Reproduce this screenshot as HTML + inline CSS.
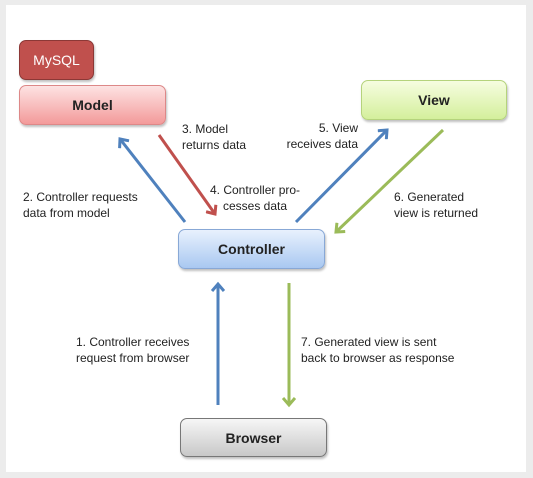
<!DOCTYPE html>
<html><head><style>
body{margin:0;width:533px;height:478px;background:#ececec;font-family:"Liberation Sans",sans-serif;position:relative;overflow:hidden}
.in{position:absolute;left:6px;top:5px;width:520px;height:467px;background:#fff}
.b{position:absolute;border-radius:7px;display:flex;align-items:center;justify-content:center;font-size:14px;font-weight:bold;color:#222;box-sizing:border-box;box-shadow:1px 2px 2px rgba(0,0,0,.25)}
.t{position:absolute;font-size:12px;color:#222;line-height:16px}
</style></head><body>
<div class="in"></div>
<div class="b" style="left:19px;top:40px;width:75px;height:40px;background:#c0504d;border:1px solid #8c3836;color:#fff;font-weight:normal">MySQL</div>
<div class="b" style="left:19px;top:85px;width:147px;height:40px;background:linear-gradient(#fde3e3,#f39a9a);border:1px solid #d88">Model</div>
<div class="b" style="left:361px;top:80px;width:146px;height:40px;background:linear-gradient(#f6fde0,#d4ef9c);border:1px solid #b5d37c">View</div>
<div class="b" style="left:178px;top:229px;width:147px;height:40px;background:linear-gradient(#e8f1fd,#a9c8f1);border:1px solid #88a8d6">Controller</div>
<div class="b" style="left:180px;top:418px;width:147px;height:39px;background:linear-gradient(#f6f6f6,#c8c8c8);border:1px solid #777">Browser</div>
<svg width="533" height="478" style="position:absolute;left:0;top:0">
<defs>
<marker id="bl" markerWidth="12" markerHeight="14" refX="8" refY="7" orient="auto" markerUnits="userSpaceOnUse"><path d="M1,1 L8,7 L1,13" fill="none" stroke="#4f81bd" stroke-width="3"/></marker>
<marker id="rd" markerWidth="12" markerHeight="14" refX="8" refY="7" orient="auto" markerUnits="userSpaceOnUse"><path d="M1,1 L8,7 L1,13" fill="none" stroke="#c0504d" stroke-width="3"/></marker>
<marker id="gr" markerWidth="12" markerHeight="14" refX="8" refY="7" orient="auto" markerUnits="userSpaceOnUse"><path d="M1,1 L8,7 L1,13" fill="none" stroke="#9bbb59" stroke-width="3"/></marker>
</defs>
<g stroke-width="3">
<line x1="185" y1="222" x2="120" y2="139" stroke="#4f81bd" marker-end="url(#bl)"/>
<line x1="159" y1="135" x2="215" y2="214" stroke="#c0504d" marker-end="url(#rd)"/>
<line x1="296" y1="222" x2="387" y2="130" stroke="#4f81bd" marker-end="url(#bl)"/>
<line x1="443" y1="130" x2="336" y2="232" stroke="#9bbb59" marker-end="url(#gr)"/>
<line x1="218" y1="405" x2="218" y2="284" stroke="#4f81bd" marker-end="url(#bl)"/>
<line x1="289" y1="283" x2="289" y2="405" stroke="#9bbb59" marker-end="url(#gr)"/>
</g>
</svg>
<div class="t" style="left:182px;top:121px">3. Model<br>returns data</div>
<div class="t" style="left:23px;top:189px">2. Controller requests<br>data from model</div>
<div class="t" style="left:210px;top:182px;text-align:center">4. Controller pro-<br>cesses data</div>
<div class="t" style="left:278px;top:120px;width:80px;text-align:right">5. View<br>receives data</div>
<div class="t" style="left:394px;top:189px">6. Generated<br>view is returned</div>
<div class="t" style="left:76px;top:334px;text-align:right">1. Controller receives<br>request from browser</div>
<div class="t" style="left:301px;top:334px">7. Generated view is sent<br>back to browser as response</div>
</body></html>
